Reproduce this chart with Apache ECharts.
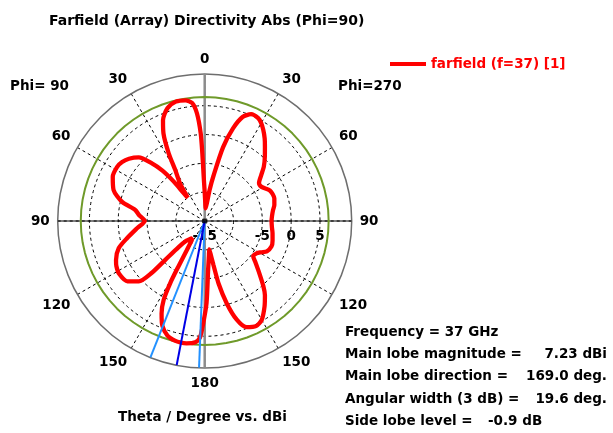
<!DOCTYPE html>
<html>
<head>
<meta charset="utf-8">
<script src="https://cdn.jsdelivr.net/npm/echarts@6/dist/echarts.min.js"></script>
<style>
html,body{margin:0;padding:0;background:#fff;}
#chart{width:613px;height:433px;}
</style>
</head>
<body>
<div id="chart"></div>
<script>
// Screen angle measured clockwise from the top (0 = Theta 0, 180 = Theta 180;
// right half = Phi 270 side, left half = Phi 90 side, Theta = 360 - angle)
const screenAngle = [
  0, 2, 4, 7, 9, 11, 14, 17, 20, 23.5, 27.5, 30, 32.7, 36, 39, 43, 47.5, 51, 55, 59,
  65, 72, 77, 81, 86, 90, 95, 100, 106, 111, 116, 119, 122, 126, 129, 132.5, 138, 141, 145, 150,
  154, 158.5, 162, 165, 167.5, 168.8, 170, 171, 173, 176, 178.7, 180.8, 182.3, 184.4, 188.5, 191, 194, 198, 202, 205,
  207.5, 209, 210, 211.5, 213.5, 215.5, 219, 223, 225, 225.4, 225.6, 227.5, 232, 238.5, 243, 246.3, 252.4, 257.5, 263.9, 270,
  275, 279, 283, 288.8, 295.7, 301.7, 305.5, 309.4, 313.9, 317.5, 320, 321.8, 323, 324, 325.5, 327, 330, 332, 334.8, 337.5,
  341.7, 346.4, 351, 353.9, 355.9, 357.4, 358, 358.7, 360
];
// Directivity Abs in dBi
const directivity = [
  -10.0, -12.0, -12.8, -11.8, -9.5, -7.0, -1.8, 1.8, 4.2, 5.2, 5.1, 4.6, 3.8, 2.7, 1.6, 0.3, -1.1, -2.4, -3.5, -3.5,
  -2.5, -2.3, -2.6, -3.0, -3.3, -3.4, -3.3, -3.05, -2.75, -2.6, -3.0, -3.8, -4.4, -4.6, -3.7, -2.4, 0.2, 1.6, 3.1, 4.8,
  5.3, 4.8, 3.0, -0.2, -3.9, -7.3, -9.3, -10.0, -9.0, -6.5, -0.8, 2.7, 5.2, 6.1, 6.45, 6.5, 6.4, 5.9, 4.6, 2.7,
  0.4, -2.6, -5.8, -9.0, -10.8, -11.3, -11.0, -10.3, -8.6, -5.4, -2.1, 0.5, 2.0, 2.45, 2.2, 1.8, 0.65, -1.2, -3.2, -4.6,
  -3.6, -2.8, -0.3, 1.7, 2.7, 2.85, 2.6, 2.0, 0.9, -1.45, -3.6, -6.2, -9.0, -10.0, -8.5, -7.0, -4.8, -1.7, 1.8, 3.9,
  5.6, 6.3, 6.2, 5.6, 3.7, 0.2, -3.3, -7.3, -10.0
];
const radialTicks = [-15, -5, 0, 5];          // shown radial tick labels
const radialRange = [-15, 10.5];
const mainLobeRing = 6.5;                      // green main-lobe circle (plot scale)
const mainLobeTheta = 169.0;                   // main lobe direction (Theta, Phi=90 side)
const beamEdgeTheta = [177.8, 158.3];          // 3 dB beam edges
const infoLabels = ['Frequency = 37 GHz', 'Main lobe magnitude =', 'Main lobe direction =', 'Angular width (3 dB) =', 'Side lobe level ='];
const infoValues = ['', '7.23 dBi', '169.0 deg.', '19.6 deg.', '-0.9 dB'];
const seriesName = 'farfield (f=37) [1]';

const FONT = 'DejaVu Sans';
const TXT = 'bold 13.5px "DejaVu Sans"';
const toV = a => (a < 90 ? a + 360 : a);      // angle axis runs 90..450 clockwise from the right

const curve = screenAngle.map((a, i) => [directivity[i], toV(a)]);
const ring = [];
for (let a = 90; a <= 450; a += 5) ring.push([mainLobeRing, a]);
const rayData = t => [[radialRange[0], toV(360 - t)], [radialRange[1], toV(360 - t)]];

const chart = echarts.init(document.getElementById('chart'), null, {renderer: 'canvas'});
chart.setOption({
  animation: false,
  backgroundColor: '#ffffff',
  title: {
    text: 'Farfield (Array) Directivity Abs (Phi=90)',
    left: 44, top: 9,
    textStyle: {fontFamily: FONT, fontWeight: 'bold', fontSize: 14, color: '#000'}
  },
  legend: {
    data: [{name: seriesName, icon: 'rect'}],
    left: 385, top: 52,
    itemWidth: 36, itemHeight: 4,
    itemGap: 6,
    textStyle: {fontFamily: FONT, fontWeight: 'bold', fontSize: 13.5, color: '#ff0000'}
  },
  polar: {center: [204.7, 221], radius: 147},
  angleAxis: {
    type: 'value', min: 90, max: 450, interval: 30,
    startAngle: 0, clockwise: true,
    axisLine: {show: true, lineStyle: {color: '#6e6e6e', width: 1.5}},
    axisTick: {show: false},
    axisLabel: {
      show: true, margin: 8, color: '#000',
      fontFamily: FONT, fontWeight: 'bold', fontSize: 13.5,
      formatter: v => { let t = ((v % 360) + 360) % 360; if (t > 180) t = 360 - t; return String(t); }
    },
    splitLine: {show: true, lineStyle: {color: '#000', width: 1, type: [3, 3]}}
  },
  radiusAxis: {
    type: 'value', min: radialRange[0], max: radialRange[1], interval: 5,
    axisLine: {show: false},
    axisTick: {show: false},
    axisLabel: {
      show: true, margin: -8, verticalAlign: 'top', color: '#000',
      fontFamily: FONT, fontWeight: 'bold', fontSize: 13.5,
      formatter: v => (radialTicks.indexOf(v) >= 0 ? String(v) : '')
    },
    splitLine: {show: true, lineStyle: {color: ['#000', '#000', '#000', '#000', '#000', 'rgba(0,0,0,0)', 'rgba(0,0,0,0)'], width: 1, type: [3, 3]}}
  },
  series: [
    {type: 'line', coordinateSystem: 'polar', symbol: 'none', silent: true, z: 2,
     data: [[radialRange[1], 270], [radialRange[0], 270], [radialRange[0], 90], [radialRange[1], 90]],
     lineStyle: {color: '#000', width: 1}},
    {type: 'line', coordinateSystem: 'polar', symbol: 'none', silent: true, z: 2,
     data: [[radialRange[1], 360], [radialRange[0], 360], [radialRange[0], 180], [radialRange[1], 180]],
     lineStyle: {color: '#8c8c8c', width: 2.5}},
    {type: 'line', coordinateSystem: 'polar', symbol: 'none', silent: true, z: 3,
     data: ring, lineStyle: {color: '#6f9a2a', width: 2}},
    {name: seriesName, type: 'line', coordinateSystem: 'polar', symbol: 'none', z: 4,
     smooth: 0.25, data: curve, lineStyle: {color: '#ff0000', width: 4.3}, itemStyle: {color: '#ff0000'}},
    {type: 'line', coordinateSystem: 'polar', symbol: 'none', silent: true, z: 5,
     data: rayData(beamEdgeTheta[0]), lineStyle: {color: '#2391ff', width: 2}},
    {type: 'line', coordinateSystem: 'polar', symbol: 'none', silent: true, z: 5,
     data: rayData(beamEdgeTheta[1]), lineStyle: {color: '#2391ff', width: 2}},
    {type: 'line', coordinateSystem: 'polar', symbol: 'none', silent: true, z: 6,
     data: rayData(mainLobeTheta), lineStyle: {color: '#0000e6', width: 2}},
    {type: 'scatter', coordinateSystem: 'polar', silent: true, z: 7, symbolSize: 5,
     data: [[radialRange[0], 90]], itemStyle: {color: '#000'}}
  ],
  graphic: [
    {type: 'text', left: 10, top: 79, style: {text: 'Phi= 90', font: TXT, fill: '#000'}},
    {type: 'text', left: 338, top: 79, style: {text: 'Phi=270', font: TXT, fill: '#000'}},
    {type: 'text', left: 118, top: 410, style: {text: 'Theta / Degree vs. dBi', font: TXT, fill: '#000'}},
    ...infoLabels.map((s, i) => ({type: 'text', x: 345, y: 332 + i * 22.4,
      style: {text: s, font: TXT, fill: '#000', textVerticalAlign: 'middle'}})),
    ...infoValues.map((s, i) => ({type: 'text', x: i === 4 ? 488 : 607, y: 332 + i * 22.4,
      style: {text: s, font: TXT, fill: '#000', textVerticalAlign: 'middle', textAlign: i === 4 ? 'left' : 'right'}}))
  ]
});
</script>
</body>
</html>
